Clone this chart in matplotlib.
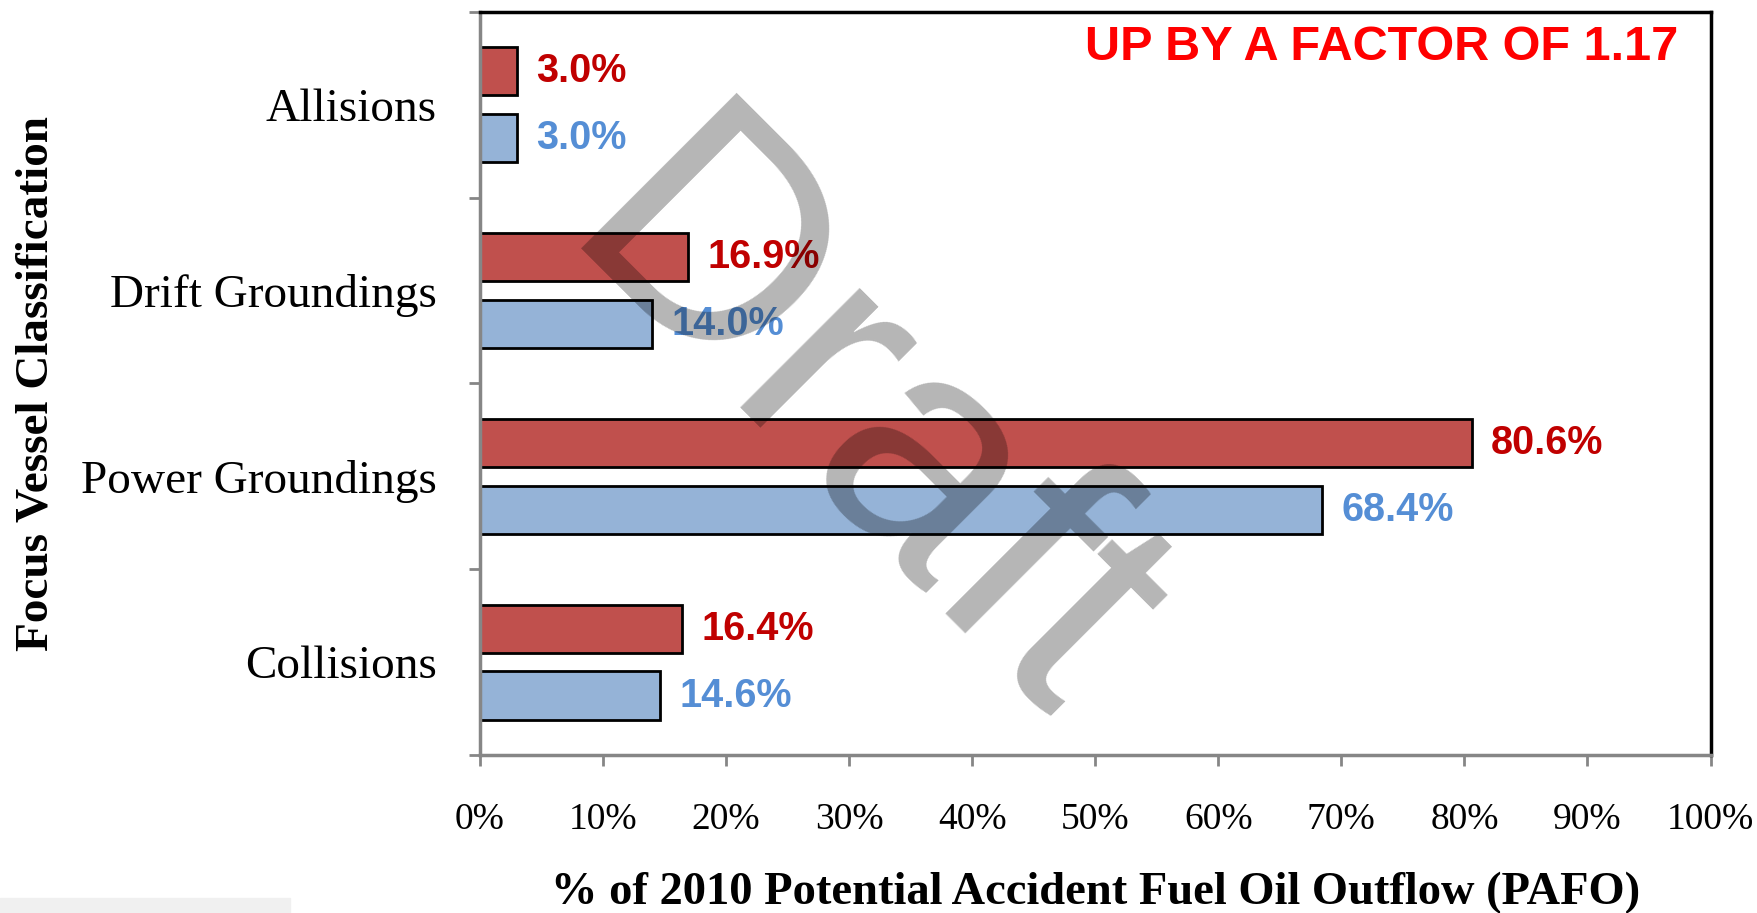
#!/usr/bin/env python3
# PAFO by focus vessel classification, 2010 vs baseline, with Draft watermark

import matplotlib.pyplot as plt
import matplotlib.patches as mpatches
import numpy as np

categories = ['Collisions', 'Power Groundings', 'Drift Groundings', 'Allisions']
pafo_2010 = [16.4, 80.6, 16.9, 3.0]      # red bars
pafo_base = [14.6, 68.4, 14.0, 3.0]      # blue bars
x_ticks = list(range(0, 101, 10))
x_ticklabels = [f'{t}%' for t in x_ticks]

serif = ['Liberation Serif', 'DejaVu Serif']
sans = ['Liberation Sans', 'DejaVu Sans']

fig = plt.figure(figsize=(17.58, 9.13), dpi=100)
ax = fig.add_axes([0.273, 0.173, 0.7, 0.814])

y = np.arange(len(categories))
h = 0.26
off = 0.18

ax.barh(y + off, pafo_2010, height=h, color='#C0504D', edgecolor='black', linewidth=2, zorder=2)
ax.barh(y - off, pafo_base, height=h, color='#95B3D7', edgecolor='black', linewidth=2, zorder=2)

# 數值標籤
for yi, v in zip(y, pafo_2010):
    ax.annotate(f'{v:.1f}%', (v, yi + off), xytext=(14, 0), textcoords='offset points',
                va='center', ha='left', fontsize=28.5, fontweight='bold', color='#C00000', family=sans)
for yi, v in zip(y, pafo_base):
    ax.annotate(f'{v:.1f}%', (v, yi - off), xytext=(14, 0), textcoords='offset points',
                va='center', ha='left', fontsize=28.5, fontweight='bold', color='#558ED5', family=sans)

ax.set_xlim(0, 100)
ax.set_ylim(-0.5, len(categories) - 0.5)

# x 軸
ax.set_xticks(x_ticks)
ax.set_xticklabels(x_ticklabels, fontsize=27, family=serif)
ax.tick_params(axis='x', direction='out', length=8, width=2, color='#868686', pad=26)

# y 軸: 刻度在類別邊界, 標籤在中間
ax.set_yticks(np.arange(-0.5, len(categories), 1.0))
ax.set_yticklabels([])
ax.set_yticks(y, minor=True)
ax.set_yticklabels(categories, minor=True, fontsize=34, family=serif)
ax.tick_params(axis='y', which='major', direction='out', length=8, width=2, color='#868686')
ax.tick_params(axis='y', which='minor', length=0, pad=31)

for s in ['left', 'bottom']:
    ax.spines[s].set_color('#868686')
    ax.spines[s].set_linewidth(2.5)
for s in ['top', 'right']:
    ax.spines[s].set_color('black')
    ax.spines[s].set_linewidth(2.5)

ax.set_xlabel('% of 2010 Potential Accident Fuel Oil Outflow (PAFO)', fontsize=33.5,
              fontweight='bold', family=serif, va='center')
ax.xaxis.set_label_coords(0.5, -0.185)
ax.set_ylabel('Focus Vessel Classification', fontsize=34, fontweight='bold', family=serif,
              va='center')
ax.yaxis.set_label_coords(-0.36, 0.5)

ax.text(0.974, 0.952, 'UP BY A FACTOR OF 1.17', transform=ax.transAxes, ha='right', va='center',
        fontsize=35, fontweight='bold', color='#FF0000', family=sans)

# 浮水印
fig.text(0.315, 0.728, 'Draft', rotation=-45, rotation_mode='anchor', ha='left', va='baseline',
         fontsize=230, color='black', alpha=0.29, family=sans, zorder=10)

# 左下角淡灰陰影
fig.patches.append(mpatches.Rectangle((0, 0), 0.165, 0.016, transform=fig.transFigure,
                                      color='#F0F0F0', zorder=0))

fig.savefig('out.png', dpi=100)
